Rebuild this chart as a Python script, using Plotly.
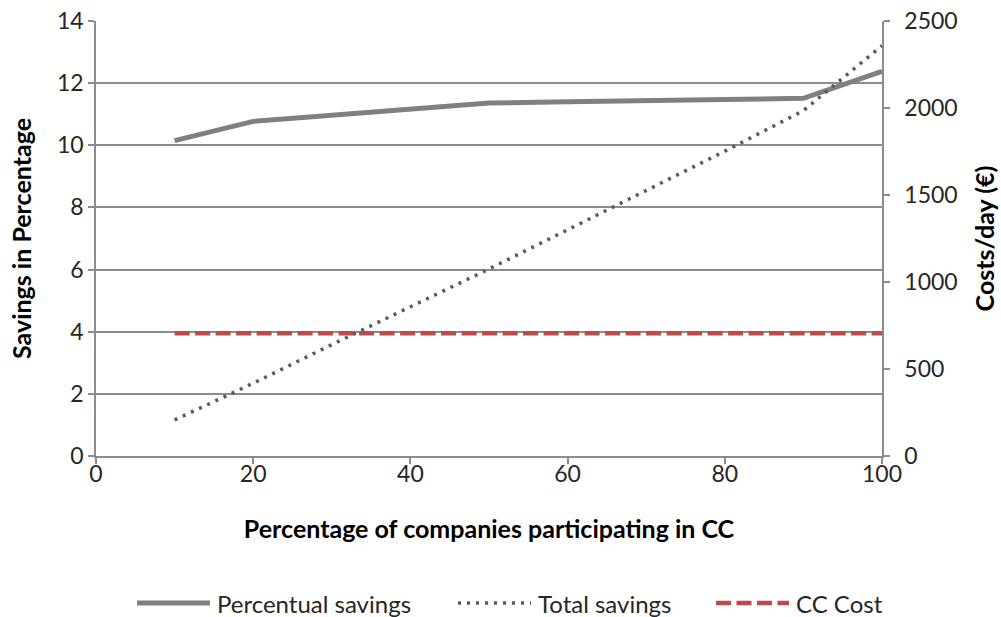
import plotly.graph_objects as go

# Share of companies taking part in the CC scheme (%)
participation = [10, 20, 30, 40, 50, 60, 70, 80, 90, 100]

# Savings relative to baseline (%), left axis
percentual_savings = [10.15, 10.77, 10.97, 11.16, 11.36, 11.40, 11.45, 11.47, 11.51, 12.38]

# Absolute savings per day (EUR), right axis
total_savings = [207, 418, 640, 858, 1075, 1300, 1525, 1752, 1985, 2358]

# Daily cost of running CC (EUR), right axis
cc_cost = [706] * len(participation)

FONT = "Lato"
GRID = "#8c8c8c"
TEXT = "#262626"

fig = go.Figure()

fig.add_trace(go.Scatter(
    x=participation, y=percentual_savings, name="Percentual savings",
    mode="lines", line=dict(color="#808080", width=5), yaxis="y",
    showlegend=False,
))
fig.add_trace(go.Scatter(
    x=participation, y=total_savings, name="Total savings",
    mode="lines", line=dict(color="#595959", width=3.5, dash="3px,6px"), yaxis="y2",
    showlegend=False,
))
fig.add_trace(go.Scatter(
    x=participation, y=cc_cost, name="CC Cost",
    mode="lines", line=dict(color="#be4b48", width=4.5, dash="15px,5.5px"), yaxis="y2",
    showlegend=False,
))

# Legend drawn underneath the x-axis title, with long line samples
legend_items = [
    ("Percentual savings", dict(color="#808080", width=5), 137),
    ("Total savings", dict(color="#595959", width=3.5, dash="3px,6px"), 458),
    ("CC Cost", dict(color="#be4b48", width=4.5, dash="15px,5.5px"), 716),
]
plot_left, plot_w, plot_top, plot_h = 96, 786, 21, 435
legend_y = (plot_top + plot_h - 603) / plot_h
for label, style, x0 in legend_items:
    x0p = (x0 - plot_left) / plot_w
    x1p = (x0 + 73 - plot_left) / plot_w
    fig.add_shape(type="line", xref="paper", yref="paper",
                  x0=x0p, x1=x1p, y0=legend_y, y1=legend_y, line=style)
    fig.add_annotation(text=label, xref="paper", yref="paper",
                       x=(x0 + 78 - plot_left) / plot_w, y=legend_y,
                       xanchor="left", yanchor="middle", showarrow=False,
                       font=dict(family=FONT, size=24, color=TEXT))

axis_common = dict(
    showline=True, linecolor=GRID, linewidth=1.5,
    ticks="outside", tickcolor=GRID, ticklen=6, tickwidth=1.5,
    tickfont=dict(family=FONT, size=23, color=TEXT),
    zeroline=False, automargin=False,
)
title_font = dict(family=FONT, size=25, color="black")

fig.update_layout(
    width=1001, height=617,
    margin=dict(l=96, r=119, t=21, b=161),
    paper_bgcolor="white", plot_bgcolor="white",
    xaxis=dict(
        range=[0, 100], dtick=20, showgrid=False, ticklabelstandoff=-9,
        title=dict(text="<b>Percentage of companies participating in CC</b>",
                   font=title_font, standoff=34),
        **axis_common,
    ),
    yaxis=dict(
        range=[0, 14], dtick=2, showgrid=True, gridcolor=GRID, gridwidth=1.5,
        title=dict(text="<b>Savings in Percentage</b>",
                   font=title_font, standoff=18),
        **axis_common,
    ),
    yaxis2=dict(
        range=[0, 2500], dtick=500, overlaying="y", side="right", showgrid=False,
        ticklabelstandoff=10,
        title=dict(text="<b>Costs/day (€)</b>",
                   font=title_font, standoff=20),
        **axis_common,
    ),
)

fig.write_html("out.html")
